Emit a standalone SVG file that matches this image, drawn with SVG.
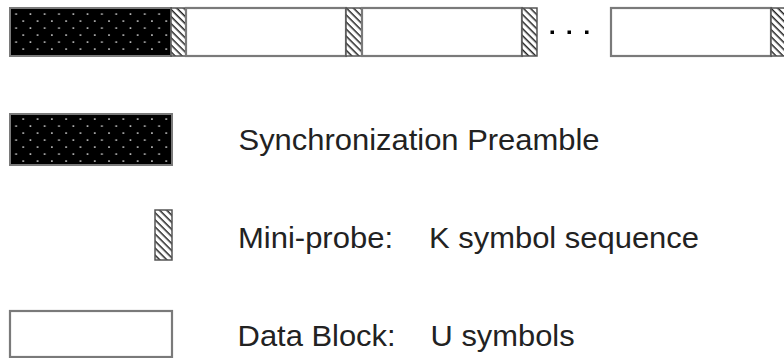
<svg xmlns="http://www.w3.org/2000/svg" width="784" height="358" viewBox="0 0 784 358">
<defs>
<pattern id="dots" x="9" y="7" width="14.3" height="14" patternUnits="userSpaceOnUse">
<rect width="14.3" height="14" fill="#000"/>
<rect x="6.3" y="6.3" width="1.6" height="1.6" fill="#d0d0d0"/>
<rect x="13.45" y="13.3" width="1.6" height="1.6" fill="#d0d0d0"/>
<rect x="-0.85" y="13.3" width="1.6" height="1.6" fill="#d0d0d0"/>
<rect x="13.45" y="-0.7" width="1.6" height="1.6" fill="#d0d0d0"/>
<rect x="-0.85" y="-0.7" width="1.6" height="1.6" fill="#d0d0d0"/>
</pattern>
<pattern id="hatch" width="5" height="5" patternUnits="userSpaceOnUse" patternTransform="rotate(45)">
<rect width="5" height="5" fill="#fff"/>
<rect width="5" height="1.5" fill="#222"/>
</pattern>
<style>
.pre{fill:url(#dots);stroke:#7a7a7a;stroke-width:2}
.probe{fill:url(#hatch);stroke:#555;stroke-width:1.5}
.data{fill:#fff;stroke:#7a7a7a;stroke-width:2.2}
.lbl{font-family:"Liberation Sans",Arial,sans-serif;font-size:30px;fill:#222}
</style>
</defs>
<g id="frame">
<rect id="top-preamble" class="pre" x="10" y="8" width="161" height="48"/>
<rect id="top-probe1" class="probe" x="171" y="8" width="15" height="48"/>
<rect id="top-data1" class="data" x="186" y="8" width="160" height="48"/>
<rect id="top-probe2" class="probe" x="346" y="8" width="16" height="48"/>
<rect id="top-data2" class="data" x="362" y="8" width="160" height="48"/>
<rect id="top-probe3" class="probe" x="522" y="8" width="15" height="48"/>
<g id="ellipsis" fill="#000">
<rect x="550.5" y="30.5" width="3.5" height="3.5"/>
<rect x="567.5" y="30.5" width="3.5" height="3.5"/>
<rect x="585" y="30.5" width="3.5" height="3.5"/>
</g>
<rect id="top-data3" class="data" x="611" y="8" width="160" height="48"/>
<rect id="top-probe4" class="probe" x="771" y="8" width="16" height="48"/>
</g>
<g id="legend-preamble">
<rect class="pre" x="10" y="114" width="162" height="51"/>
<text class="lbl" x="238.5" y="150" textLength="361" lengthAdjust="spacingAndGlyphs">Synchronization Preamble</text>
</g>
<g id="legend-probe">
<rect class="probe" x="155" y="210" width="17" height="50"/>
<text class="lbl" x="238" y="247.5" textLength="155" lengthAdjust="spacingAndGlyphs">Mini-probe:</text>
<text class="lbl" x="429" y="247.5" textLength="270" lengthAdjust="spacingAndGlyphs">K symbol sequence</text>
</g>
<g id="legend-data">
<rect class="data" x="10" y="311" width="162" height="46"/>
<text class="lbl" x="237.6" y="346" textLength="158" lengthAdjust="spacingAndGlyphs">Data Block:</text>
<text class="lbl" x="430.6" y="346" textLength="144" lengthAdjust="spacingAndGlyphs">U symbols</text>
</g>
<g id="connectors"/>
</svg>
